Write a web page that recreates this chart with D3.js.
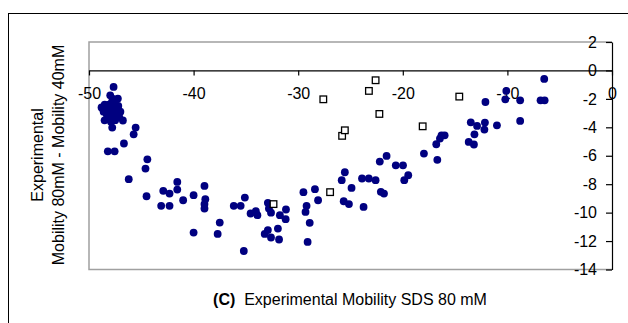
<!DOCTYPE html>
<html>
<head>
<meta charset="utf-8">
<script src="https://cdn.jsdelivr.net/npm/d3@7"></script>
<style>
body { margin: 0; background: #fff; }
svg { display: block; font-family: "Liberation Sans", Arial, sans-serif; }
</style>
</head>
<body>
<div id="chart"></div>
<script>
// filled circles (x = mobility SDS 80 mM, y = 80mM - 40mM)
var circX = [-47.65, -47.97, -47.24, -48.68, -46.76, -48.51, -47.78, -45.54, -45.73, -46.66,
  -48.2, -47.55, -44.42, -44.6, -46.2, -44.5, -42.9, -42.3, -41.56, -41.56,
  -43.1, -42.3, -41.0, -40.0, -40.0, -38.96, -38.88, -38.96, -38.96, -37.5,
  -37.7, -36.16, -35.5, -35.1, -35.2, -34.55, -34.05, -33.9, -32.9, -32.9,
  -33.2, -32.6, -32.8, -32.6, -31.94, -31.83, -31.75, -31.17, -31.2, -29.5,
  -29.2, -29.3, -28.9, -29.1, -28.4, -28.1, -25.84, -25.54, -25.65, -25.15,
  -24.9, -23.9, -23.25, -22.6, -23.75, -22.2, -21.55, -22.1, -21.8, -20.67,
  -19.98, -19.86, -19.48, -17.98, -16.8, -16.7, -16.45, -16.3, -16.0, -13.5,
  -13.7, -13.2, -12.9, -13.15, -12.2, -12.1, -12.15, -11.0, -10.1, -10.2,
  -8.78, -8.78, -6.83, -6.44, -6.48,
  -48.8, -48.6, -48.4, -48.3, -48.1, -48.0, -47.9, -47.8, -47.7, -47.6,
  -47.5, -47.4, -47.3, -47.2, -47.9, -48.2, -47.5, -47.7, -48.5, -47.25,
  -47.0, -47.1];
var circY = [-1.16, -1.75, -1.98, -2.68, -3.52, -3.51, -4.02, -4.02, -4.49, -5.14,
  -5.69, -5.69, -6.25, -6.9, -7.65, -8.85, -8.47, -8.66, -7.84, -8.38,
  -9.52, -9.52, -9.13, -8.77, -11.4, -8.12, -9.06, -9.4, -9.71, -10.7,
  -11.5, -9.52, -9.52, -8.94, -12.7, -10.06, -9.9, -10.18, -9.31, -11.23,
  -11.5, -11.75, -9.71, -10.0, -11.12, -11.89, -10.18, -9.78, -10.46, -8.56,
  -9.52, -9.95, -10.72, -12.06, -8.35, -9.13, -7.72, -7.16, -9.2, -9.4,
  -8.26, -7.6, -7.6, -7.72, -9.6, -6.41, -6.01, -8.54, -8.66, -6.67,
  -6.67, -7.72, -7.37, -5.85, -5.19, -6.29, -4.79, -4.56, -4.56, -3.65,
  -5.03, -5.21, -3.9, -4.49, -4.16, -2.22, -3.67, -3.86, -1.44, -2.03,
  -2.1, -3.55, -2.1, -2.1, -0.6,
  -2.6, -2.9, -2.7, -3.1, -2.4, -2.9, -3.3, -2.2, -2.6, -3.0,
  -2.4, -2.8, -3.2, -2.5, -3.6, -3.4, -3.5, -2.0, -2.4, -2.95,
  -2.9, -3.3];

// open squares
var sqX = [-27.6, -26.95, -25.8, -25.54, -23.24, -22.6, -22.24, -18.1, -14.6, -32.36];
var sqY = [-2.03, -8.56, -4.6, -4.21, -1.44, -0.69, -3.06, -3.93, -1.84, -9.4];

var xTicks = [-50, -40, -30, -20, -10, 0];
var yTicks = [2, 0, -2, -4, -6, -8, -10, -12, -14];

var W = 628, H = 323;
var pLeft = 89, pRight = 612, pTop = 42, pBottom = 269.5;

var svg = d3.select("#chart").append("svg")
    .attr("width", W)
    .attr("height", H);

// outer frame
svg.append("rect")
    .attr("x", 8.5).attr("y", 13.5)
    .attr("width", 700).attr("height", 400)
    .attr("fill", "none").attr("stroke", "#000").attr("stroke-width", 1);

var x = d3.scaleLinear().domain([-50, 0]).range([pLeft, pRight]);
var y = d3.scaleLinear().domain([-14, 2]).range([pBottom, pTop]);

// plot area border (grey)
svg.append("path")
    .attr("d", "M" + pRight + "," + pTop + "H" + pLeft + "V" + pBottom + "H" + pRight)
    .attr("fill", "none").attr("stroke", "#a0a0a0").attr("stroke-width", 1.5);

var fmt = function(d) { return String(d); };

// x axis on y = 0
svg.append("g")
    .attr("transform", "translate(0," + y(0) + ")")
    .call(d3.axisBottom(x).tickValues(xTicks).tickSize(5).tickPadding(12)
        .tickFormat(fmt).tickSizeOuter(0));
// y axis on the right edge
svg.append("g")
    .attr("transform", "translate(" + pRight + ",0)")
    .call(d3.axisLeft(y).tickValues(yTicks).tickSize(6).tickPadding(9)
        .tickFormat(fmt).tickSizeOuter(0));

svg.selectAll(".tick text")
    .attr("font-size", 16)
    .attr("font-family", "Liberation Sans, Arial, sans-serif")
    .attr("fill", "#000");
svg.selectAll(".domain, .tick line").attr("stroke", "#000").attr("stroke-width", 1.2);

svg.append("g").selectAll("circle")
    .data(d3.range(circX.length))
    .enter().append("circle")
    .attr("cx", function(i) { return x(circX[i]); })
    .attr("cy", function(i) { return y(circY[i]); })
    .attr("r", 3.9)
    .attr("fill", "#000080");

svg.append("g").selectAll("rect")
    .data(d3.range(sqX.length))
    .enter().append("rect")
    .attr("x", function(i) { return x(sqX[i]) - 3.3; })
    .attr("y", function(i) { return y(sqY[i]) - 3.3; })
    .attr("width", 6.6).attr("height", 6.6)
    .attr("fill", "#fff").attr("stroke", "#000").attr("stroke-width", 1.3);

// axis titles
var yt = svg.append("text")
    .attr("transform", "translate(43,155) rotate(-90)")
    .attr("text-anchor", "middle")
    .attr("font-size", 16);
yt.append("tspan").attr("x", 0).attr("y", 0).text("Experimental");
yt.append("tspan").attr("x", 0).attr("y", 21).text("Mobility 80mM - Mobility 40mM");

var xt = svg.append("text")
    .attr("x", 350).attr("y", 305)
    .attr("text-anchor", "middle")
    .attr("font-size", 16);
xt.append("tspan").attr("font-weight", "bold").text("(C)");
xt.append("tspan").attr("xml:space", "preserve").text("  Experimental Mobility SDS 80 mM");
</script>
</body>
</html>
